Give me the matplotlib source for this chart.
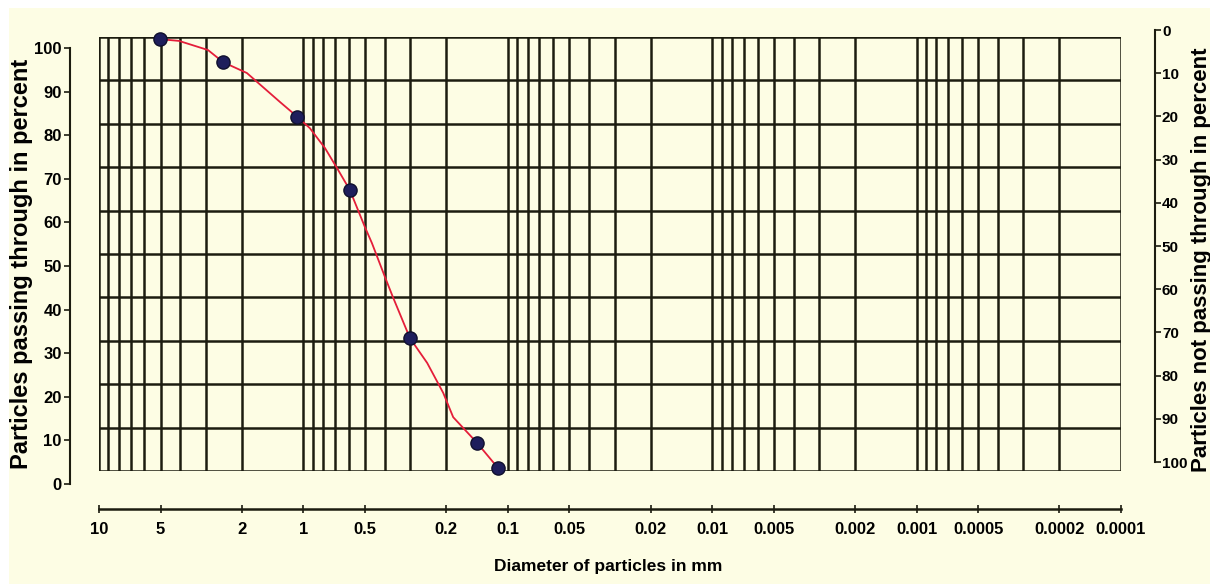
import matplotlib
matplotlib.use("Agg")
import matplotlib.pyplot as plt
from matplotlib.patches import Rectangle

plt.rcParams['font.family'] = ['Liberation Sans', 'DejaVu Sans']
plt.rcParams['font.weight'] = 'bold'

# red grading curve (diameter mm, percent passing)
curve_d = [5.03, 4.06, 2.93, 2.47, 1.89, 1.30, 1.07, 0.93, 0.784, 0.677, 0.592,
           0.500, 0.462, 0.399, 0.365, 0.301, 0.248, 0.207, 0.185, 0.1415, 0.1117]
curve_p = [99.5, 99.1, 97.0, 94.2, 91.7, 85.0, 81.6, 79.0, 74.4, 69.4, 64.7,
           56.2, 52.5, 44.7, 40.1, 30.6, 24.9, 18.0, 12.4, 6.5, 0.7]

# sieve results (dots)
sample_d = [5.03, 2.47, 1.07, 0.592, 0.301, 0.1415, 0.1117]
sample_p = [99.5, 94.2, 81.6, 64.7, 30.6, 6.5, 0.7]

xtick_vals = [10, 5, 2, 1, 0.5, 0.2, 0.1, 0.05, 0.02, 0.01, 0.005, 0.002,
              0.001, 0.0005, 0.0002, 0.0001]
xtick_labels = ['10', '5', '2', '1', '0.5', '0.2', '0.1', '0.05', '0.02', '0.01',
                '0.005', '0.002', '0.001', '0.0005', '0.0002', '0.0001']
pct_ticks = [0, 10, 20, 30, 40, 50, 60, 70, 80, 90, 100]

W, H = 1210, 584
paper = '#FDFDE4'
ink = '#1C1C10'

fig = plt.figure(figsize=(W / 100, H / 100), dpi=100, facecolor='white')
fig.patches.append(Rectangle((9 / W, 0), 1 - 9 / W, 1 - 8 / H, transform=fig.transFigure,
                             facecolor=paper, edgecolor='none', zorder=-10))

def box(x0, y0, x1, y1):
    # pixel box (top-left origin) -> figure rect
    return [x0 / W, 1 - y1 / H, (x1 - x0) / W, (y1 - y0) / H]

# log grid sheet
ax = fig.add_axes(box(99, 37, 1121, 471))
ax.set_facecolor('none')
ax.set_xscale('log')
ax.set_xlim(10, 0.0001)
ax.set_ylim(0, 100)
for k in range(-4, 1):
    for m in range(1, 10):
        v = m * 10.0 ** k
        ax.axvline(v, color=ink, lw=1.8, zorder=1)
ax.axvline(10, color=ink, lw=1.8, zorder=1)
for p in pct_ticks:
    ax.axhline(p, color=ink, lw=1.8, zorder=1)
for s in ax.spines.values():
    s.set_visible(False)
ax.set_xticks([])
ax.set_yticks([])
ax.minorticks_off()

ax.plot(curve_d, curve_p, color='#E41E3A', lw=1.3, zorder=3, clip_on=False)
ax.plot(sample_d, sample_p, 'o', color='#1E1E5C', markeredgecolor='#10102E',
        markersize=9.5, zorder=4, clip_on=False)

# left percent scale
axl = fig.add_axes(box(70, 48, 71, 484))
axl.set_facecolor('none')
axl.set_ylim(0, 100)
axl.set_yticks(pct_ticks)
axl.set_yticklabels([str(p) for p in pct_ticks], fontsize=12, fontweight='bold')
axl.set_xticks([])
for n in ['top', 'right', 'bottom']:
    axl.spines[n].set_visible(False)
axl.spines['left'].set_color(ink)
axl.spines['left'].set_linewidth(1.5)
axl.tick_params(axis='y', direction='out', length=4, width=1.2, color=ink, pad=2)

# right scale (not passing)
axr = fig.add_axes(box(1154, 30, 1155, 462))
axr.set_facecolor('none')
axr.set_ylim(100, 0)
axr.yaxis.tick_right()
axr.set_yticks(pct_ticks)
axr.set_yticklabels([str(p) for p in pct_ticks], fontsize=11, fontweight='bold')
axr.set_xticks([])
for n in ['top', 'left', 'bottom']:
    axr.spines[n].set_visible(False)
axr.spines['right'].set_color(ink)
axr.spines['right'].set_linewidth(1.5)
axr.tick_params(axis='y', direction='out', length=4, width=1.2, color=ink, pad=1)

# bottom diameter scale
axb = fig.add_axes(box(99, 508, 1121, 509))
axb.set_facecolor('none')
axb.set_xscale('log')
axb.set_xlim(10, 0.0001)
axb.set_xticks(xtick_vals)
axb.set_xticklabels(xtick_labels, fontsize=12, fontweight='bold')
axb.minorticks_off()
axb.set_yticks([])
for n in ['top', 'left', 'right']:
    axb.spines[n].set_visible(False)
axb.spines['bottom'].set_color(ink)
axb.spines['bottom'].set_linewidth(1.8)
axb.tick_params(axis='x', direction='inout', length=6, width=1.2, color=ink, pad=6)

fig.text(608 / W, 1 - 566 / H, 'Diameter of particles in mm', ha='center', va='center',
         fontsize=12.5, fontweight='bold')
fig.text(22 / W, 1 - 264 / H, 'Particles passing through in percent', ha='center',
         va='center', rotation=90, fontsize=17, fontweight='bold')
fig.text(1201 / W, 1 - 260 / H, 'Particles not passing through in percent', ha='center',
         va='center', rotation=90, fontsize=16, fontweight='bold')

fig.savefig('out.png', dpi=100, facecolor='white')
